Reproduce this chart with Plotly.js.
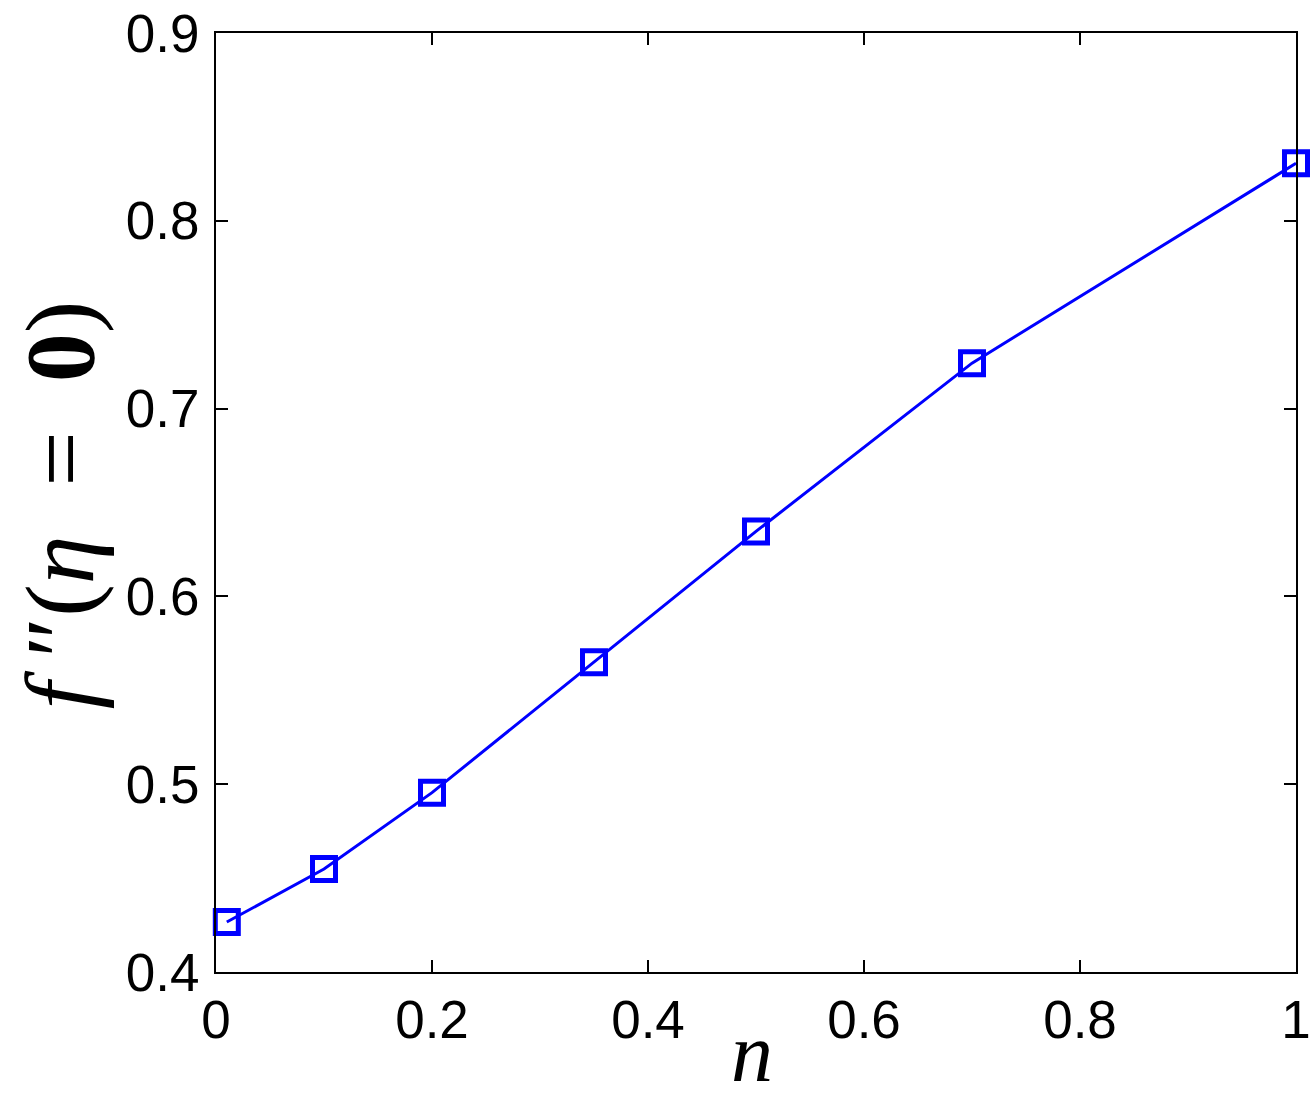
<!DOCTYPE html>
<html>
<head>
<meta charset="utf-8">
<script src="https://cdn.plot.ly/plotly-3.0.1.min.js"></script>
<style>html,body{margin:0;padding:0;background:#fff;}#chart{width:1315px;height:1107px;}</style>
</head>
<body>
<div id="chart"></div>
<script>
const nValues = [0.01, 0.1, 0.2, 0.35, 0.5, 0.7, 1.0];
const fppValues = [0.4266, 0.4548, 0.4955, 0.5649, 0.6346, 0.7242, 0.8306];
const xTickVals = [0, 0.2, 0.4, 0.6, 0.8, 1];
const xTickText = ['0', '0.2', '0.4', '0.6', '0.8', '1'];
const yTickVals = [0.4, 0.5, 0.6, 0.7, 0.8, 0.9];
const yTickText = ['0.4', '0.5', '0.6', '0.7', '0.8', '0.9'];

const trace = {
  x: nValues, y: fppValues, type: 'scatter', mode: 'lines+markers',
  line: {color: '#0000ff', width: 3},
  marker: {symbol: 'square-open', size: 23, color: '#0000ff', line: {color: '#0000ff', width: 5}},
  cliponaxis: false, showlegend: false
};
const axisCommon = {
  showgrid: false, zeroline: false, showline: true, linecolor: '#000', linewidth: 2,
  mirror: 'ticks', ticks: 'inside', ticklen: 12, tickwidth: 2, tickcolor: '#000',
  tickfont: {family: 'Liberation Sans, Arial, sans-serif', size: 53, color: '#000'}
};
const layout = {
  width: 1315, height: 1107,
  margin: {l: 216, r: 19, t: 33, b: 135},
  paper_bgcolor: '#fff', plot_bgcolor: '#fff',
  xaxis: Object.assign({}, axisCommon, {range: [0, 1], tickmode: 'array', tickvals: xTickVals, ticktext: xTickText, ticklabelstandoff: 0}),
  yaxis: Object.assign({}, axisCommon, {range: [0.4, 0.9], tickmode: 'array', tickvals: yTickVals, ticktext: yTickText, ticklabelstandoff: 4}),
  annotations: [
    {text: '<i>f</i> ″(<i>η</i>  =  <b>0</b>)', xref: 'paper', yref: 'paper', x: -0.1444, y: 0.497,
     xanchor: 'center', yanchor: 'middle', textangle: -90, showarrow: false,
     font: {family: 'Liberation Serif, Times New Roman, serif', size: 98, color: '#000'}},
    {text: '<i>n</i>', xref: 'paper', yref: 'paper', x: 0.496, y: -0.086,
     xanchor: 'center', yanchor: 'middle', showarrow: false,
     font: {family: 'Liberation Serif, Times New Roman, serif', size: 84, color: '#000'}}
  ]
};
Plotly.newPlot('chart', [trace], layout, {displayModeBar: false, staticPlot: true});
</script>
</body>
</html>
